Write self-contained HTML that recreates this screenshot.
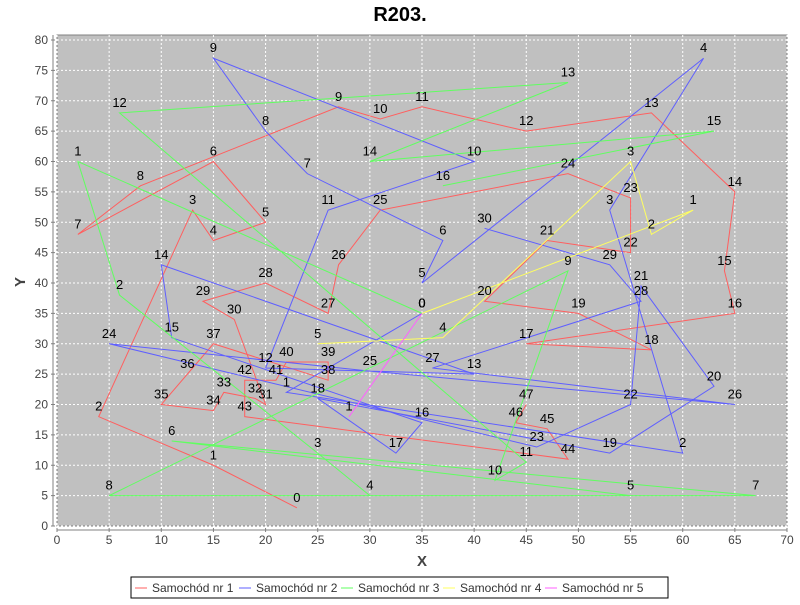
<!DOCTYPE html>
<html><head><meta charset="utf-8"><style>
body{margin:0;background:#fff;width:800px;height:600px;overflow:hidden;font-family:"Liberation Sans",sans-serif}
svg text{font-family:"Liberation Sans","DejaVu Sans",sans-serif}
</style></head><body>
<svg id="chart" width="800" height="600">
<text x="400" y="21" text-anchor="middle" font-size="20" font-weight="bold">R203.</text>
<rect x="57" y="35" width="730" height="491" fill="#c0c0c0" stroke="#808080"/>
<g id="grid"></g><g id="axes"></g><g id="series"></g>
<text x="422" y="566" text-anchor="middle" font-size="15" font-weight="bold" fill="#444">X</text>
<text x="25" y="282" text-anchor="middle" font-size="15" font-weight="bold" fill="#444" transform="rotate(-90 25 282)">Y</text>
<g id="legend"><rect x="131" y="577" width="537" height="21" fill="#fff" stroke="#000"/></g>
</svg>
<script>
const xTicks=[0,5,10,15,20,25,30,35,40,45,50,55,60,65,70];
const yTicks=[0,5,10,15,20,25,30,35,40,45,50,55,60,65,70,75,80];
const seriesNames=["Samochód nr 1","Samochód nr 2","Samochód nr 3","Samochód nr 4","Samochód nr 5"];
const seriesColors=["#ff5f5f","#5f5fff","#5fff5f","#ffff5f","#ff5fff"];
const s1x=[23,15,4,13,15,20,15,2,8,27,31,35,45,57,65,64,65,45,57,50,41,47,55,55,49,31,27,26,20,14,17,20,19,16,15,10,12.5,15,26,26,22,21,18,18,49,47,44,45];
const s1y=[3,10,18,52,47,50,60,48,56,69,67,69,65,68,55,42,35,30,29,35,37,47,45,54,58,52,43,35,40,37,34,20,21,22,19,20,25,30,24,27,27,24,24,18,11,16,17,20];
const s2x=[35,22,60,53,62,35,37,24,20,15,40,26,20,40,10,11,35,32.5,25,53,63,56,55,46,5,30,65,36,56,53,41];
const s2y=[35,22,12,52,77,40,47,58,65,77,60,52,26,25,43,31,17,12,21,12,23,39.5,20,13,30,25.5,20,26,37,43,49];
const s3x=[35,2,6,25,30,55,11,67,5,49,42,45,6,49,30,63,37];
const s3y=[35,60,38,12,5,5,14,5,5,42,7.5,10.5,68,73,60,65,56];
const s4x=[35,61,57,55,37,25];
const s4y=[35,52,48,60,31,30];
const s5x=[35,28];
const s5y=[35,18];
const allX=[s1x,s2x,s3x,s4x,s5x], allY=[s1y,s2y,s3y,s4y,s5y];
const NS="http://www.w3.org/2000/svg";
const X=v=>57+v*730/70, Y=v=>526-v*6.075;
function mk(t,a,p){const e=document.createElementNS(NS,t);for(const k in a)e.setAttribute(k,a[k]);p.appendChild(e);return e;}
const grid=document.getElementById('grid'),axes=document.getElementById('axes');
xTicks.forEach(t=>{
 const g=mk('line',{x1:X(t),x2:X(t),y1:35,y2:526,stroke:'#fff','stroke-dasharray':'2,2'},grid);
 
 
 mk('line',{x1:X(t),x2:X(t),y1:528,y2:532,stroke:'#808080'},axes);
 const l=mk('text',{x:X(t),y:544,'text-anchor':'middle','font-size':12,fill:'#444'},axes);l.textContent=t;
 
 
});
yTicks.forEach(t=>{
 const g=mk('line',{x1:57,x2:787,y1:Y(t),y2:Y(t),stroke:'#fff','stroke-dasharray':'2,2'},grid);
 
 
 mk('line',{x1:51,x2:55,y1:Y(t),y2:Y(t),stroke:'#808080'},axes);
 const l=mk('text',{x:48,y:Y(t)+4,'text-anchor':'end','font-size':12,fill:'#444'},axes);l.textContent=t;
 
 
});
mk('line',{x1:57,x2:787,y1:530,y2:530,stroke:'#808080'},axes);
mk('line',{x1:53,x2:53,y1:35,y2:526,stroke:'#808080'},axes);
const sg=document.getElementById('series');
allX.forEach((xs,i)=>{
 const ys=allY[i];
 const pl=mk('polyline',{points:xs.map((v,j)=>X(v)+','+Y(ys[j])).join(' '),fill:'none',stroke:seriesColors[i],'stroke-width':1},sg);
 
 
});
allX.forEach((xs,i)=>{
 const ys=allY[i];
 xs.forEach((v,j)=>{
  const t=mk('text',{x:X(v),y:Y(ys[j])-6,'text-anchor':'middle','font-size':13,fill:'#000'},sg);t.textContent=j;
  
  
 });
});
const lg=document.getElementById('legend');
const lx=[135,239,341,443,545];
seriesNames.forEach((n,i)=>{
 mk('line',{x1:lx[i],x2:lx[i]+12,y1:588,y2:588,stroke:seriesColors[i]},lg);
 const t=mk('text',{x:lx[i]+17,y:592,'font-size':12,fill:'#333'},lg);t.textContent=n;
 
 
});
</script>
</body></html>
